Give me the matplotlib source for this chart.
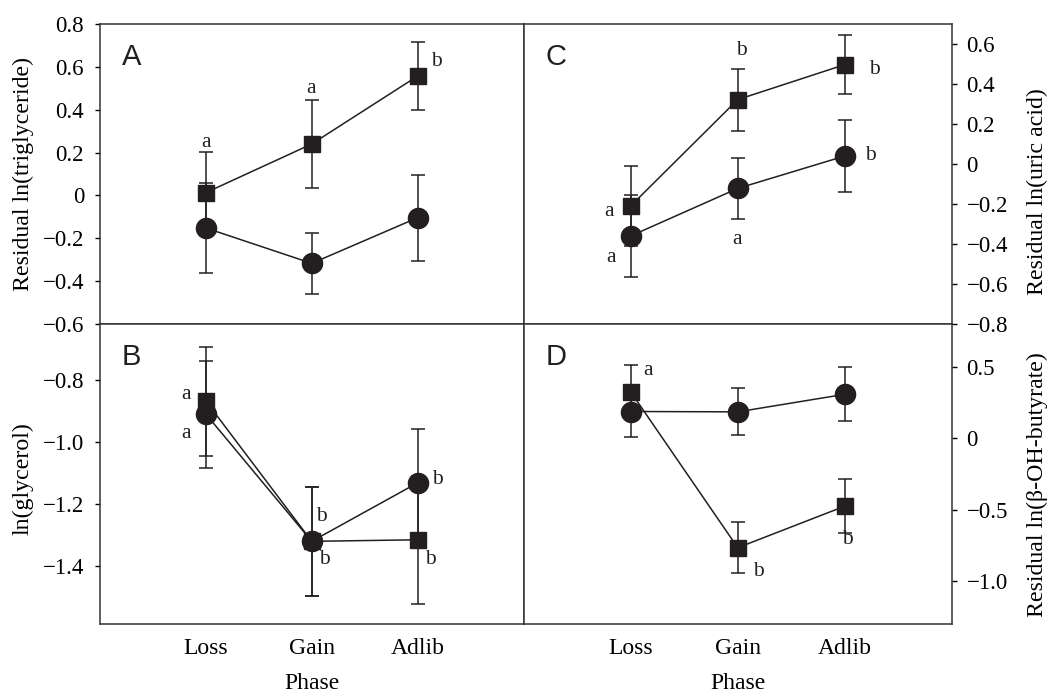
import matplotlib
matplotlib.use("Agg")
import matplotlib.pyplot as plt

plt.rcParams['font.family'] = ['Liberation Serif', 'DejaVu Serif']
plt.rcParams['axes.unicode_minus'] = True

phases = ["Loss", "Gain", "Adlib"]
xpos = [1, 2, 3]

# Panel A: Residual ln(triglyceride)
a_sq = [0.013, 0.24, 0.557]
a_sq_err = [0.19, 0.207, 0.157]
a_ci = [-0.152, -0.317, -0.104]
a_ci_err = [0.21, 0.144, 0.2]
a_letters = [("a", 1.0, 0.249), ("a", 1.99, 0.499), ("b", 3.18, 0.624)]
a_ticks = [0.8, 0.6, 0.4, 0.2, 0, -0.2, -0.4, -0.6]
a_ticklabels = ["0.8", "0.6", "0.4", "0.2", "0", "\u22120.2", "\u22120.4", "\u22120.6"]

# Panel B: ln(glycerol)
b_sq = [-0.868, -1.321, -1.316]
b_sq_err = [0.176, 0.175, 0.206]
b_ci = [-0.910, -1.321, -1.132]
b_ci_err = [0.173, 0.175, 0.175]
b_letters = [("a", 0.815, -0.848), ("a", 0.815, -0.972), ("b", 2.09, -1.242),
             ("b", 2.12, -1.379), ("b", 3.19, -1.121), ("b", 3.12, -1.379)]
b_ticks = [-0.8, -1.0, -1.2, -1.4]
b_ticklabels = ["\u22120.8", "\u22121.0", "\u22121.2", "\u22121.4"]

# Panel C: Residual ln(uric acid)
c_sq = [-0.21, 0.322, 0.497]
c_sq_err = [0.2, 0.155, 0.146]
c_ci = [-0.36, -0.122, 0.04]
c_ci_err = [0.205, 0.153, 0.18]
c_letters = [("b", 2.03, 0.567), ("b", 3.28, 0.475), ("b", 3.24, 0.042),
             ("a", 0.80, -0.237), ("a", 0.82, -0.467), ("a", 1.99, -0.375)]
c_ticks = [0.6, 0.4, 0.2, 0, -0.2, -0.4, -0.6, -0.8]
c_ticklabels = ["0.6", "0.4", "0.2", "0", "\u22120.2", "\u22120.4", "\u22120.6", "\u22120.8"]

# Panel D: Residual ln(beta-OH-butyrate)
d_sq = [0.326, -0.766, -0.475]
d_sq_err = [0.19, 0.18, 0.19]
d_ci = [0.1875, 0.185, 0.308]
d_ci_err = [0.18, 0.165, 0.19]
d_letters = [("a", 1.16, 0.478), ("b", 2.19, -0.933), ("b", 3.02, -0.712)]
d_ticks = [0.5, 0, -0.5, -1.0]
d_ticklabels = ["0.5", "0", "\u22120.5", "\u22121.0"]

W, H = 1049, 696
fig = plt.figure(figsize=(W / 100, H / 100), dpi=100)

L, M, R = 100, 523.5, 952
T, MID, B = 24, 324, 624


def ax_rect(x0, x1, y0, y1):
    return [x0 / W, 1 - y1 / H, (x1 - x0) / W, (y1 - y0) / H]


axA = fig.add_axes(ax_rect(L, M, T, MID))
axB = fig.add_axes(ax_rect(L, M, MID, B))
axC = fig.add_axes(ax_rect(M, R, T, MID))
axD = fig.add_axes(ax_rect(M, R, MID, B))

col = "#231f20"


def draw(ax, sq, sqe, ci, cie, letters):
    ax.errorbar(xpos, sq, yerr=sqe, color=col, marker="s", markersize=11,
                lw=1.1, elinewidth=1.1, capsize=5.3, capthick=1.1, zorder=3)
    ax.errorbar(xpos, ci, yerr=cie, color=col, marker="o", markersize=14.5,
                lw=1.1, elinewidth=1.1, capsize=5.3, capthick=1.1, zorder=4)
    for s, x, y in letters:
        ax.text(x, y, s, ha="center", va="center", fontsize=15.5, color=col)
    ax.set_xlim(0, 4)
    for sp in ax.spines.values():
        sp.set_linewidth(1.1)
        sp.set_color("#333333")


draw(axA, a_sq, a_sq_err, a_ci, a_ci_err, a_letters)
draw(axB, b_sq, b_sq_err, b_ci, b_ci_err, b_letters)
draw(axC, c_sq, c_sq_err, c_ci, c_ci_err, c_letters)
draw(axD, d_sq, d_sq_err, d_ci, d_ci_err, d_letters)

axA.set_ylim(-0.6, 0.8)
axB.set_ylim(-1.588, -0.619)
axC.set_ylim(-0.8, 0.7)
axD.set_ylim(-1.3, 0.8)

for ax, ticks, labels in [(axA, a_ticks, a_ticklabels), (axB, b_ticks, b_ticklabels)]:
    ax.set_yticks(ticks)
    ax.set_yticklabels(labels)
    ax.tick_params(axis="y", direction="out", length=3.5, width=1, pad=8,
                   labelsize=16.5, left=True, right=False)
for ax, ticks, labels in [(axC, c_ticks, c_ticklabels), (axD, d_ticks, d_ticklabels)]:
    ax.yaxis.tick_right()
    ax.set_yticks(ticks)
    ax.set_yticklabels(labels)
    ax.tick_params(axis="y", direction="out", length=3.5, width=1, pad=7,
                   labelsize=16.5, left=False, right=True)

for ax in (axA, axC):
    ax.set_xticks([])
for ax in (axB, axD):
    ax.set_xticks(xpos)
    ax.set_xticklabels(phases)
    ax.tick_params(axis="x", length=0, pad=10, labelsize=17)
    ax.set_xlabel("Phase", fontsize=17, labelpad=10)

# Panel letters
for ax, s in [(axA, "A"), (axB, "B"), (axC, "C"), (axD, "D")]:
    ax.text(0.075, 0.89, s, transform=ax.transAxes, ha="center", va="center",
            fontsize=21, family=["Liberation Sans", "DejaVu Sans"], color=col)

# Y labels
fig.text(23 / W, 1 - 174 / H, "Residual ln(triglyceride)", rotation=90,
         ha="center", va="center", fontsize=17.2)
fig.text(23 / W, 1 - 479 / H, "ln(glycerol)", rotation=90,
         ha="center", va="center", fontsize=17.2)
fig.text(1037 / W, 1 - 192 / H, "Residual ln(uric acid)", rotation=90,
         ha="center", va="center", fontsize=17.2)
fig.text(1037 / W, 1 - 485 / H, "Residual ln(\u03b2-OH-butyrate)", rotation=90,
         ha="center", va="center", fontsize=17.2)

fig.savefig("out.png", dpi=100)
